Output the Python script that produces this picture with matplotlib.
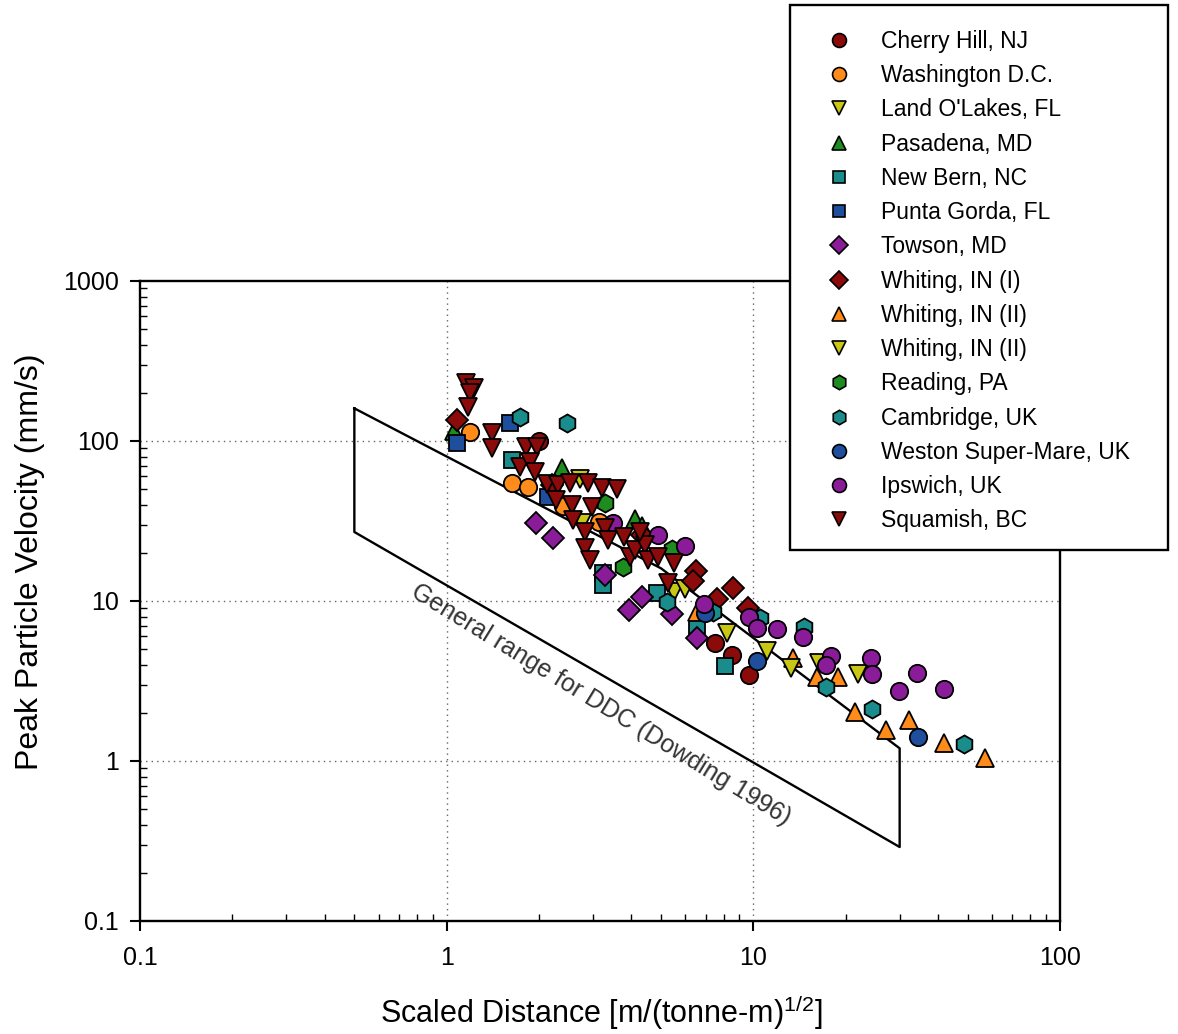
import matplotlib
matplotlib.use("Agg")
import matplotlib.pyplot as plt
from matplotlib.patches import Rectangle
from matplotlib.lines import Line2D
from matplotlib.ticker import LogLocator, FixedLocator, FixedFormatter, NullFormatter

plt.rcParams['font.family'] = ['Liberation Sans', 'DejaVu Sans']
plt.rcParams['mathtext.fontset'] = 'custom'
plt.rcParams['mathtext.rm'] = 'Liberation Sans'
plt.rcParams['mathtext.it'] = 'Liberation Sans:italic'

# ---- data: scaled distance [m/(tonne-m)^1/2] vs peak particle velocity [mm/s]
cherry_x = [2.0, 7.5, 8.5, 9.7]
cherry_y = [100, 5.5, 4.6, 3.45]

washington_x = [1.19, 1.63, 1.84, 2.4, 3.15]
washington_y = [114, 54.6, 51.6, 39, 31]

landolakes_x = [2.72, 2.76, 5.5, 5.98, 8.2]
landolakes_y = [58, 30.7, 11.4, 11.9, 6.3]

pasadena_x = [1.06, 2.37, 4.11, 4.33]
pasadena_y = [115, 68, 32.5, 29.4]

newbern_x = [1.63, 3.23, 3.23, 4.84, 6.55, 8.07]
newbern_y = [76, 15, 12.6, 11.2, 6.8, 3.9]

puntagorda_x = [1.08, 1.61, 2.14]
puntagorda_y = [97, 130, 44.7]

towson_x = [1.95, 2.22, 3.28, 3.92, 4.33, 5.42, 6.54]
towson_y = [30.7, 24.8, 14.5, 8.8, 10.6, 8.3, 5.9]

whiting1_x = [1.08, 2.2, 4.33, 6.5, 6.35, 8.6, 7.6, 9.6]
whiting1_y = [135, 53, 26, 15.5, 13.3, 12.0, 10.3, 9.1]

whiting2a_x = [6.54, 13.5, 16.1, 18.9, 21.4, 27.0, 32.1, 41.8, 56.9]
whiting2a_y = [8.5, 4.4, 3.35, 3.35, 2.02, 1.56, 1.8, 1.30, 1.04]

whiting2b_x = [11.1, 13.3, 16.4, 21.9]
whiting2b_y = [4.9, 3.8, 4.1, 3.5]

reading_x = [3.28, 3.75, 5.42]
reading_y = [41, 16.3, 21]

cambridge_x = [1.73, 2.46, 5.22, 7.38, 10.5, 14.6, 17.2, 24.4, 48.6]
cambridge_y = [141, 130, 9.9, 8.5, 7.8, 6.9, 2.9, 2.1, 1.28]

weston_x = [6.95, 10.3, 34.4]
weston_y = [8.4, 4.2, 1.41]

ipswich_x = [3.48, 4.88, 5.98, 6.9, 9.67, 10.3, 11.9, 14.5, 17.9, 17.2,
             24.2, 24.4, 29.8, 34.1, 41.8]
ipswich_y = [30.7, 25.8, 22.1, 9.6, 7.9, 6.8, 6.7, 5.96, 4.5, 4.0,
             4.4, 3.5, 2.74, 3.55, 2.82]

squamish_x = [1.16, 1.23, 1.19, 1.17, 1.41, 1.41, 1.82, 1.97, 1.73, 1.87, 1.94,
              2.12, 2.30, 2.52, 2.88, 3.20, 3.59, 2.28, 2.56, 2.97, 2.58, 2.82,
              2.82, 2.93, 3.28, 3.35, 3.78, 3.95, 4.1, 4.43, 4.53, 4.88, 5.5,
              5.26, 4.26]
squamish_y = [230, 214, 200, 163, 112, 90, 92, 92, 69, 74, 64,
              54, 53, 54.6, 54.6, 50.8, 50, 42.8, 39.8, 38.7, 32, 27,
              21.4, 18.0, 28.6, 24.1, 25.1, 18.8, 20.8, 22.4, 18.0, 18.8, 17.3,
              13.0, 27]

# DDC envelope (Dowding 1996)
ddc_x = [0.5, 5.0, 30.0, 30.0, 0.5, 0.5]
ddc_y = [160, 16.0, 1.2, 0.29, 27, 160]

series_labels = ["Cherry Hill, NJ", "Washington D.C.", "Land O'Lakes, FL",
                 "Pasadena, MD", "New Bern, NC", "Punta Gorda, FL", "Towson, MD",
                 "Whiting, IN (I)", "Whiting, IN (II)", "Whiting, IN (II)",
                 "Reading, PA", "Cambridge, UK", "Weston Super-Mare, UK",
                 "Ipswich, UK", "Squamish, BC"]

x_ticks = [0.1, 1, 10, 100]
x_tick_labels = ["0.1", "1", "10", "100"]
y_ticks = [0.1, 1, 10, 100, 1000]
y_tick_labels = ["0.1", "1", "10", "100", "1000"]

# ---- styles
DKRED = "#8B0A0A"
ORANGE = "#FF8C1A"
YELLOW = "#C8C814"
GREEN = "#1E8C1E"
TEAL = "#1A8C8C"
BLUE = "#1F4F9C"
PURPLE = "#8B1C99"

series = [
    (cherry_x, cherry_y, 'o', DKRED, 12.5),
    (washington_x, washington_y, 'o', ORANGE, 12.5),
    (landolakes_x, landolakes_y, 'v', YELLOW, 13.0),
    (pasadena_x, pasadena_y, '^', GREEN, 13.0),
    (newbern_x, newbern_y, 's', TEAL, 11.5),
    (puntagorda_x, puntagorda_y, 's', BLUE, 11.5),
    (towson_x, towson_y, 'D', PURPLE, 11.0),
    (whiting1_x, whiting1_y, 'D', DKRED, 11.0),
    (whiting2a_x, whiting2a_y, '^', ORANGE, 13.0),
    (whiting2b_x, whiting2b_y, 'v', YELLOW, 13.0),
    (reading_x, reading_y, 'h', GREEN, 13.0),
    (cambridge_x, cambridge_y, 'h', TEAL, 13.0),
    (weston_x, weston_y, 'o', BLUE, 12.5),
    (ipswich_x, ipswich_y, 'o', PURPLE, 12.5),
    (squamish_x, squamish_y, 'v', DKRED, 13.0),
]

W, H = 1178, 1034
fig = plt.figure(figsize=(W / 100, H / 100), dpi=100)
ax = fig.add_axes([140 / W, 1 - 921 / H, 920 / W, 640 / H])
ax.set_xscale('log')
ax.set_yscale('log')
ax.set_xlim(0.1, 100)
ax.set_ylim(0.1, 1000)

# dotted grid at decades
for gx in [1, 10]:
    ax.axvline(gx, color='#666666', linestyle=(0, (1, 3)), linewidth=1.0, zorder=0)
for gy in [1, 10, 100]:
    ax.axhline(gy, color='#666666', linestyle=(0, (1, 3)), linewidth=1.0, zorder=0)

ax.plot(ddc_x, ddc_y, color='black', linewidth=1.7, zorder=1)

for (xs, ys, m, c, ms), lab in zip(series, series_labels):
    ax.plot(xs, ys, linestyle='none', marker=m, color=c, markersize=ms,
            markeredgecolor='black', markeredgewidth=1.3, zorder=3, label=lab)

ax.text(3.18, 2.24, "General range for DDC (Dowding 1996)", rotation=-31.5,
        rotation_mode='anchor', ha='center', va='center', fontsize=18,
        color='#333333', zorder=2)

# ticks
ax.xaxis.set_major_locator(FixedLocator(x_ticks))
ax.xaxis.set_major_formatter(FixedFormatter(x_tick_labels))
ax.yaxis.set_major_locator(FixedLocator(y_ticks))
ax.yaxis.set_major_formatter(FixedFormatter(y_tick_labels))
ax.xaxis.set_minor_locator(LogLocator(base=10, subs=range(2, 10)))
ax.yaxis.set_minor_locator(LogLocator(base=10, subs=range(2, 10)))
ax.xaxis.set_minor_formatter(NullFormatter())
ax.yaxis.set_minor_formatter(NullFormatter())
ax.tick_params(which='major', direction='out', length=7, width=1.5,
               labelsize=18, pad=8)
ax.tick_params(axis='x', which='major', pad=11)
ax.tick_params(which='minor', direction='in', length=5, width=1.0)
for sp in ax.spines.values():
    sp.set_linewidth(1.7)

fig.text(30 / W, 1 - 562 / H, "Peak Particle Velocity (mm/s)", rotation=90,
         ha='center', va='center', fontsize=23)
fig.text(601 / W, 1 - 1012 / H, r"Scaled Distance [m/(tonne-m)$^{\mathrm{1/2}}$]",
         ha='center', va='center', fontsize=22)

# legend box
fig.patches.append(Rectangle((790 / W, 1 - 550 / H), 378 / W, 545 / H,
                             transform=fig.transFigure, facecolor='white',
                             edgecolor='black', linewidth=1.7, zorder=5))
handles = [Line2D([], [], linestyle='none', marker=m, color=c,
                  markersize=ms * 0.8, markeredgecolor='black',
                  markeredgewidth=1.2)
           for (_, _, m, c, ms) in series]
leg = fig.legend(handles, series_labels, loc='upper left',
                 bbox_to_anchor=(825 / W, 1 - 30 / H), frameon=False,
                 fontsize=16.5, handlelength=1.2, handletextpad=1.25,
                 labelspacing=0.49, borderpad=0, borderaxespad=0)
leg.set_zorder(6)

fig.savefig("out.png", dpi=100)
